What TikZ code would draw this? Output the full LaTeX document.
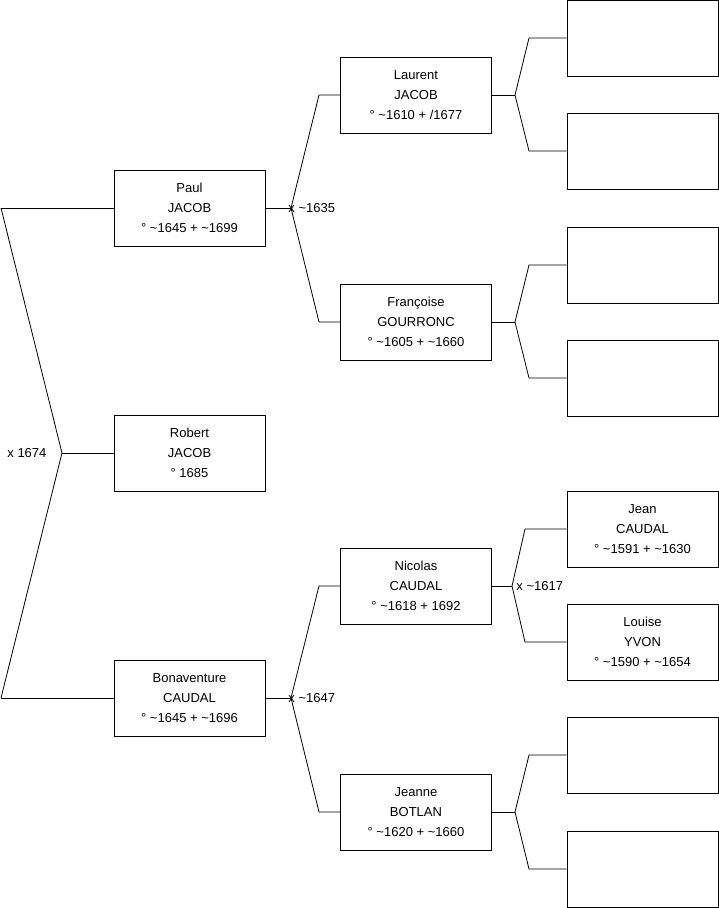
\documentclass[tikz,border=0pt]{standalone}
\usepackage{fontspec}
\setmainfont{Liberation Sans}
\newcommand{\ca}{\textasciitilde}

\begin{document}
\begin{tikzpicture}[%
x=1pt, y=-1pt,
line width=0.8pt,
person/.style={draw, minimum width=151pt, minimum height=76pt, inner sep=0pt, align=center, font=\fontsize{13}{20}\selectfont},
union/.style={anchor=west, inner sep=0pt, font=\fontsize{13}{14}\selectfont},
]
\useasboundingbox (0,0) rectangle (719,908);
%% generation 1;
\node[person] (paul) at (189.5,208) {Paul\\JACOB\\° \ca1645 + \ca1699};
\node[person] (robert) at (189.5,453) {Robert\\JACOB\\° 1685};
\node[person] (bona) at (189.5,698) {Bonaventure\\CAUDAL\\° \ca1645 + \ca1696};
%% generation 2;
\node[person] (laurent) at (416,95) {Laurent\\JACOB\\° \ca1610 + /1677};
\node[person] (francoise) at (416,322) {Françoise\\GOURRONC\\° \ca1605 + \ca1660};
\node[person] (nicolas) at (416,586) {Nicolas\\CAUDAL\\° \ca1618 + 1692};
\node[person] (jeanne) at (416,812) {Jeanne\\BOTLAN\\° \ca1620 + \ca1660};
%% generation 3;
\node[person] (e1) at (642.5,38) {};
\node[person] (e2) at (642.5,151) {};
\node[person] (e3) at (642.5,265) {};
\node[person] (e4) at (642.5,378) {};
\node[person] (jean) at (642.5,529) {Jean\\CAUDAL\\° \ca1591 + \ca1630};
\node[person] (louise) at (642.5,642) {Louise\\YVON\\° \ca1590 + \ca1654};
\node[person] (e7) at (642.5,755) {};
\node[person] (e8) at (642.5,869) {};
%% siblings;
\coordinate (rtop) at (1,208);
\coordinate (rj) at (62,453);
\coordinate (rbot) at (1,698);
\draw (rtop) -- (paul.west);
\draw (rtop) -- (rj) -- (rbot);
\draw (rj) -- (robert.west);
\draw (rbot) -- (bona.west);
\node[union] (u1674) at (7,453) {x 1674};
%% parents of paul;
\coordinate (pj) at (291,208);
\coordinate (pu) at (319,95);
\coordinate (pd) at (319,322);
\draw (paul.east) -- (pj);
\draw (laurent.west) -- (pu) -- (pj) -- (pd) -- (francoise.west);
\node[union] (u1635) at (288,208) {x \ca1635};
%% parents of bonaventure;
\coordinate (bj) at (291,698);
\coordinate (bu) at (319,586);
\coordinate (bd) at (319,812);
\draw (bona.east) -- (bj);
\draw (nicolas.west) -- (bu) -- (bj) -- (bd) -- (jeanne.west);
\node[union] (u1647) at (288,698) {x \ca1647};
%% parents of laurent;
\coordinate (lj) at (515,95);
\coordinate (lu) at (529,38);
\coordinate (ld) at (529,151);
\draw (laurent.east) -- (lj);
\draw (e1.west) -- (lu) -- (lj) -- (ld) -- (e2.west);
%% parents of francoise;
\coordinate (fj) at (515,322);
\coordinate (fu) at (529,265);
\coordinate (fd) at (529,378);
\draw (francoise.east) -- (fj);
\draw (e3.west) -- (fu) -- (fj) -- (fd) -- (e4.west);
%% parents of nicolas;
\coordinate (nj) at (512,586);
\coordinate (nu) at (525,529);
\coordinate (nd) at (525,642);
\draw (nicolas.east) -- (nj);
\draw (jean.west) -- (nu) -- (nj) -- (nd) -- (louise.west);
\node[union] (u1617) at (516,586) {x \ca1617};
%% parents of jeanne;
\coordinate (jj) at (515,812);
\coordinate (ju) at (529,755);
\coordinate (jd) at (529,869);
\draw (jeanne.east) -- (jj);
\draw (e7.west) -- (ju) -- (jj) -- (jd) -- (e8.west);
\end{tikzpicture}
\end{document}
